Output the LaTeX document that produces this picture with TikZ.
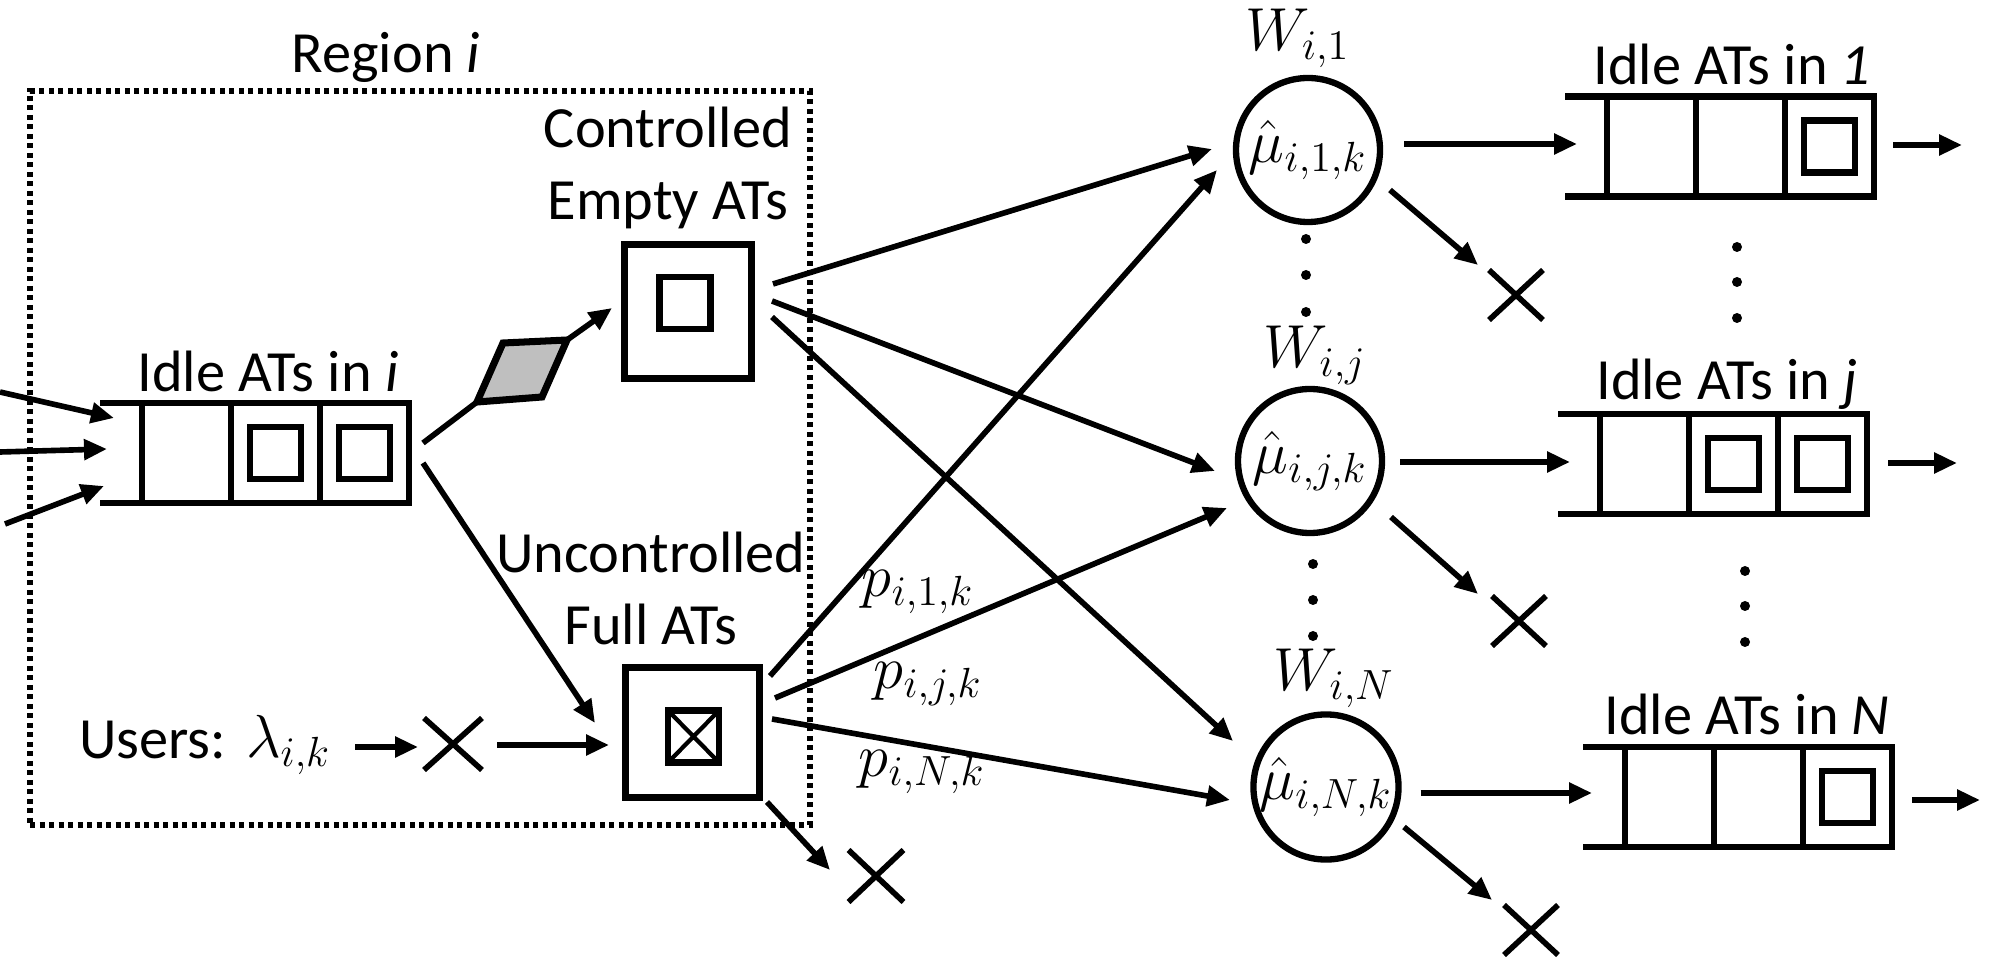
\documentclass[tikz,border=0pt]{standalone}
\usepackage[no-math]{fontspec}
\setmainfont{Carlito}
\usetikzlibrary{arrows.meta,calc,shapes.misc}
\newcommand\atqueue[3]{%
  \node[cell] (#1a) at (#2+44.5,#3) {};
  \node[cell] (#1b) at (#2+133.5,#3) {};
  \node[cell] (#1c) at (#2+222.5,#3) {};
  \draw[thickline] (#1a.north west) -- ++(-42,0);
  \draw[thickline] (#1a.south west) -- ++(-42,0);
}
\begin{document}
\begin{tikzpicture}[x=0.1mm,y=-0.1mm,
  every node/.style={inner sep=0pt, outer sep=0pt},
  txt/.style={font=\fontsize{16.6}{20.5}\selectfont},
  mth/.style={font=\fontsize{18}{21}\selectfont},
  thickline/.style={line width=1.9pt},
  cell/.style={draw, line width=1.9pt, minimum width=8.9mm, minimum height=10mm},
  atsq/.style={draw, line width=1.9pt, minimum width=5.1mm, minimum height=5.2mm},
  station/.style={draw, line width=1.9pt, minimum width=12.7mm, minimum height=13.4mm},
  server/.style={draw, circle, line width=1.8pt, minimum size=14.4mm, font=\fontsize{18}{21}\selectfont},
  lost/.style={draw, cross out, line width=1.6pt, minimum width=5.4mm, minimum height=5mm},
  arr/.style={line width=1.6pt, -{Triangle[length=2.3mm,width=2mm]}},
  link/.style={line width=1.6pt},
  vdot/.style={fill, circle, minimum size=1mm},
  regionbox/.style={draw, line width=1.7pt, dash pattern=on 0.5mm off 0.45mm, minimum width=78mm, minimum height=73.4mm},
]
\useasboundingbox (0,0) rectangle (2001,958);

% region
\node[regionbox] (region) at (420,458) {};
\node[txt, anchor=base] (reglab) at (386,73) {Region \textit{i}};

% queue in region i
\atqueue{qi}{142}{453}
\node[atsq] (qibat) at (qib) {};
\node[atsq] (qicat) at (qic) {};
\node[txt, anchor=base] (qilab) at (268,392) {Idle ATs in \textit{i}};

% incoming arrows
\coordinate (in1) at (0,392);
\coordinate (in2) at (0,452);
\coordinate (in3) at (5,524);
\draw[arr] (in1) -- ($(qia.west)+(-28,-35)$);
\draw[arr] (in2) -- ($(qia.west)+(-35,-4)$);
\draw[arr] (in3) -- ($(qia.west)+(-38,33)$);

% controlled empty ATs
\node[station] (ctrl) at (688,311.5) {};
\node[atsq] (ctrlat) at (685,303) {};
\node[txt, align=center, anchor=base] (ctrllab) at (668,220) {Controlled\\Empty ATs};

% dispatch parallelogram
\coordinate (pgA) at (477,402);
\coordinate (pgB) at (503,343);
\coordinate (pgC) at (567,340);
\coordinate (pgD) at (542,397);
\draw[link] ($(qic.east)+(14,-10)$) -- (pgA);
\draw[fill=black!25, line width=2pt] (pgA) -- (pgB) -- (pgC) -- (pgD) -- cycle;
\draw[arr] (pgC) -- ($(ctrl.west)+(-12.5,-3.5)$);

% uncontrolled full ATs
\node[station, minimum width=13.4mm, minimum height=13mm] (unc) at (692.5,732.5) {};
\node[atsq] (uncat) at (693.5,736.5) {};
\draw[line width=1.2pt] (uncat.north west) -- (uncat.south east) (uncat.north east) -- (uncat.south west);
\node[txt, align=center, anchor=base] (unclab) at (651,645) {Uncontrolled\\Full ATs};
\draw[arr] ($(qic.east)+(14,10)$) -- ($(unc.west)+(-30.5,-9.5)$);

% users
\node[txt, anchor=base west] (users) at (79,758) {Users:};
\node[mth, anchor=base west] (lam) at (246,757) {$\lambda_{i,k}$};
\node[lost, minimum width=5.8mm, minimum height=5.2mm] (x0) at (453,744) {};
\draw[arr] ($(x0.west)+(-69,3)$) -- ($(x0.west)+(-6,3)$);
\draw[arr] ($(x0.east)+(15,1)$) -- ($(unc.west)+(-16.5,12.5)$);

\node[lost, minimum width=5.5mm, minimum height=5.2mm] (xL) at (876,876) {};
\draw[arr] ($(unc.south east)+(7.5,4.5)$) -- ($(xL)+(-46,-6)$);

% servers
\node[server] (c1) at (1308,150) {$\hat{\mu}_{i,1,k}$};
\node[server] (cj) at (1310,461) {$\hat{\mu}_{i,j,k}$};
\node[server] (cN) at (1326,787) {$\hat{\mu}_{i,N,k}$};
\node[mth] (w1) at (1298,38) {$W_{i,1}$};
\node[mth] (wj) at (1315,355) {$W_{i,j}$};
\node[mth] (wN) at (1334,678) {$W_{i,N}$};

\node[vdot] (d1) at (1306,239) {};
\node[vdot] (d2) at (1306,275) {};
\node[vdot] (d3) at (1306,312) {};
\node[vdot] (d4) at (1313,564) {};
\node[vdot] (d5) at (1313,600) {};
\node[vdot] (d6) at (1313,636) {};

% routing arrows
\draw[arr] ($(ctrl.east)+(21.5,-27.5)$) -- ($(c1)+(-96,-1)$);
\draw[arr] ($(ctrl.east)+(20.5,-10.5)$) -- ($(cj)+(-95,10)$);
\draw[arr] ($(ctrl.east)+(20.5,5.5)$) -- ($(cN)+(-93,-46)$);
\draw[arr] ($(unc.east)+(10.5,-56.5)$) -- ($(c1)+(-91,20)$);
\draw[arr] ($(unc.east)+(15.5,-34.5)$) -- ($(cj)+(-83,47)$);
\draw[arr] ($(unc.east)+(12.5,-13.5)$) -- ($(cN)+(-96,13)$);
\node[mth] (p1) at (918,592) {$p_{i,1,k}$};
\node[mth] (pj) at (928,684) {$p_{i,j,k}$};
\node[mth] (pN) at (922,772) {$p_{i,N,k}$};

% destination queues
\atqueue{qo}{1607}{146.5}
\node[atsq] (qocat) at (qoc) {};
\node[txt, anchor=base] (qolab) at (1732,85) {Idle ATs in \textit{1}};
\atqueue{qj}{1600}{464}
\node[atsq] (qjbat) at (qjb) {};
\node[atsq] (qjcat) at (qjc) {};
\node[txt, anchor=base] (qjlab) at (1727,400) {Idle ATs in \textit{j}};
\atqueue{qn}{1625}{797}
\node[atsq] (qncat) at (qnc) {};
\node[txt, anchor=base] (qnlab) at (1747,735) {Idle ATs in \textit{N}};

\node[vdot] (e1) at (1737,247) {};
\node[vdot] (e2) at (1737,282) {};
\node[vdot] (e3) at (1737,318) {};
\node[vdot] (e4) at (1745,571) {};
\node[vdot] (e5) at (1745,606) {};
\node[vdot] (e6) at (1745,642) {};

\draw[arr] ($(c1.east)+(24,-6)$) -- ($(qoa.west)+(-30,-2.5)$);
\draw[arr] ($(cj.east)+(18,1)$) -- ($(qja.west)+(-30,-2)$);
\draw[arr] ($(cN.east)+(22,6)$) -- ($(qna.west)+(-33,-4)$);

\draw[arr] ($(qoc.east)+(19,-1.5)$) -- ($(qoc.east)+(88,-1.5)$);
\draw[arr] ($(qjc.east)+(21,-1)$) -- ($(qjc.east)+(90,-1)$);
\draw[arr] ($(qnc.east)+(20,3)$) -- ($(qnc.east)+(88,3)$);

% losses
\node[lost] (x1) at (1516,295) {};
\node[lost] (xj) at (1519,621) {};
\node[lost] (xN) at (1531,930) {};
\draw[arr] ($(c1)+(82,40)$) -- ($(x1)+(-38,-30)$);
\draw[arr] ($(cj)+(81,56)$) -- ($(xj)+(-41,-27)$);
\draw[arr] ($(cN)+(78,40)$) -- ($(xN)+(-39,-30)$);
\end{tikzpicture}
\end{document}
